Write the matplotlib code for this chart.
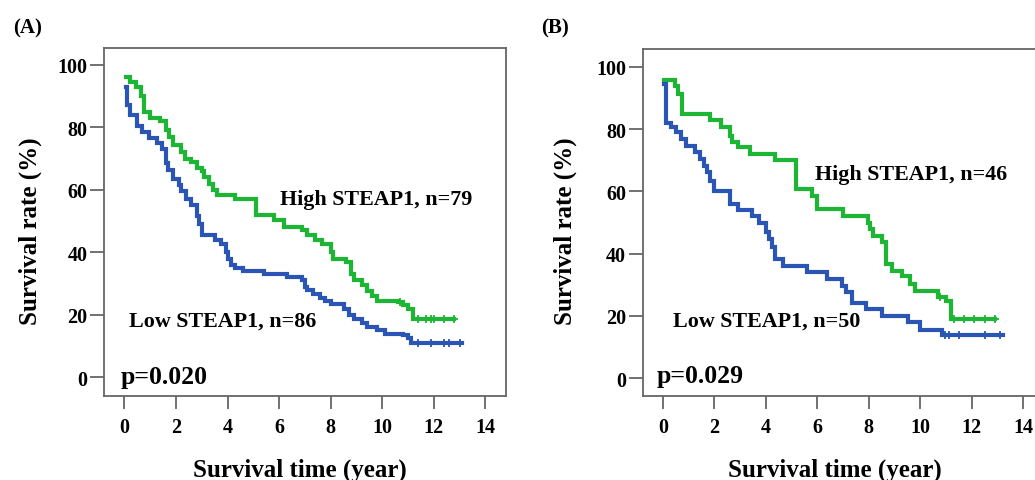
import numpy as np
import matplotlib.pyplot as plt

# Kaplan-Meier step points (time in years, survival in %)
a_high_t = [0.05, 0.2, 0.45, 0.65, 0.75, 1.0, 1.4, 1.6, 1.75, 1.9, 2.2, 2.35, 2.6, 2.8, 3.0,
            3.1, 3.3, 3.45, 3.6, 4.3, 5.1, 5.8, 6.2, 6.9, 7.1, 7.4, 7.65, 8.0, 8.1, 8.6,
            8.8, 8.9, 9.2, 9.4, 9.6, 9.8, 10.6, 10.8, 11.0, 11.2, 12.8]
a_high_s = [96, 94.5, 93, 90, 85, 83, 82, 79, 77, 74.5, 72, 70, 69, 67, 66,
            64, 62, 60, 58.5, 57, 52, 50.5, 48, 47, 45.5, 44, 42.5, 40, 38, 37,
            33, 31, 29.5, 27.5, 26, 24.5, 24, 23, 22, 18.5, 18.5]
a_high_cens = [10.7, 11.4, 11.7, 11.9, 12.0, 12.4, 12.8]

a_low_t = [0.05, 0.1, 0.2, 0.5, 0.7, 0.95, 1.25, 1.45, 1.6, 1.7, 1.9, 2.1, 2.2, 2.4, 2.6,
           2.8, 2.9, 3.0, 3.5, 3.75, 3.95, 4.0, 4.15, 4.3, 4.6, 5.4, 6.3, 6.9, 7.0, 7.1,
           7.3, 7.6, 7.8, 8.0, 8.5, 8.7, 8.9, 9.2, 9.4, 9.8, 10.1, 10.8, 11.0, 11.1, 13.1]
a_low_s = [93, 87, 84, 80.5, 78.5, 76.5, 75, 73, 68.5, 66.5, 63.5, 61.5, 59.5, 57, 55,
           51.5, 49, 45.5, 44, 42.5, 40, 38, 36, 35, 34, 33, 32, 31, 29, 28,
           26.5, 25.5, 24.5, 23.5, 22, 20, 18.5, 17.5, 16, 15, 14, 13.5, 12.5, 11, 11]
a_low_cens = [11.4, 11.9, 12.4, 12.6, 13.0]

b_high_t = [0.05, 0.45, 0.58, 0.74, 1.82, 2.27, 2.6, 2.7, 2.92, 3.37, 4.35, 5.16, 5.8, 6.0,
            7.0, 7.98, 8.05, 8.15, 8.5, 8.65, 8.9, 9.3, 9.6, 9.8, 10.7, 11.0, 11.2, 12.9]
b_high_s = [95.8, 93.9, 91.4, 84.8, 83, 80.7, 77.9, 75.7, 74.1, 72, 70, 60.7, 58.6, 54.3,
            52.2, 50, 47.9, 45.8, 43.6, 36.7, 34.5, 32.9, 30.3, 28.1, 26, 24.9, 19, 19]
b_high_cens = [10.75, 11.3, 11.7, 12.1, 12.5, 12.9]

b_low_t = [0.05, 0.1, 0.13, 0.32, 0.52, 0.71, 0.9, 1.23, 1.43, 1.58, 1.71, 1.84, 2.0, 2.6,
           2.92, 3.44, 3.75, 4.02, 4.12, 4.22, 4.35, 4.67, 5.58, 6.36, 6.94, 7.1, 7.33,
           7.91, 8.5, 9.53, 10.0, 10.83, 13.2]
b_low_s = [94.4, 87.5, 82, 80.5, 78.9, 76.8, 74.7, 72.5, 70.4, 68.2, 66.1, 63.4, 60.2, 55.9,
           54, 52.2, 50, 46.8, 44.7, 42, 38.3, 36.1, 34, 32, 29.7, 27.8, 24.2,
           22.2, 20.1, 18, 15.6, 13.9, 13.9]
b_low_cens = [10.96, 11.1, 11.5, 12.5, 13.1]

xticks = [0, 2, 4, 6, 8, 10, 12, 14]
yticks = [0, 20, 40, 60, 80, 100]

green = '#1cb534'
blue = '#2a55b5'
serif = 'Liberation Serif'

plt.rcParams['font.family'] = serif
plt.rcParams['font.weight'] = 'bold'

fig = plt.figure(figsize=(10.35, 4.81), dpi=100)


def km(ax, t, s, cens, color):
    ax.plot(t, s, drawstyle='steps-post', color=color, lw=3.0, solid_joinstyle='miter')
    idx = np.searchsorted(t, cens, side='right') - 1
    ax.plot(cens, np.array(s)[idx], ls='none', marker='+', ms=6, mew=1.3, color=color)


def panel(rect, ylim, curves, hi_txt, hi_xy, lo_txt, lo_xy, p_txt, p_xy):
    ax = fig.add_axes(rect)
    for t, s, cens, c in curves:
        km(ax, t, s, cens, c)
    ax.set_xlim(-0.79, 14.8)
    ax.set_ylim(*ylim)
    ax.set_xticks(xticks)
    ax.set_yticks(yticks)
    for sp in ax.spines.values():
        sp.set_color('#666666')
        sp.set_linewidth(1.3)
    ax.tick_params(axis='x', direction='out', length=9, width=1.3, color='#666666',
                   labelsize=14.5, pad=6)
    ax.tick_params(axis='y', direction='out', length=10, width=1.3, color='#666666',
                   labelsize=14.5, pad=2)
    for lab in ax.get_xticklabels() + ax.get_yticklabels():
        lab.set_fontweight('bold')
    ax.text(*hi_xy, hi_txt, fontsize=15.8, fontweight='bold', va='center', ha='left')
    ax.text(*lo_xy, lo_txt, fontsize=15.8, fontweight='bold', va='center', ha='left')
    ax.text(*p_xy, p_txt, fontsize=18.5, fontweight='bold', va='center', ha='left')
    return ax


panel([104 / 1035, 1 - 397 / 481, 402 / 1035, 348 / 481], (-6.0, 105.4),
      [(a_high_t, a_high_s, a_high_cens, green), (a_low_t, a_low_s, a_low_cens, blue)],
      'High STEAP1, n=79', (6.04, 57.1), 'Low STEAP1, n=86', (0.18, 18.1),
      'p=0.020', (-0.13, 0.4))

panel([642.7 / 1035, 1 - 397 / 481, 401 / 1035, 347 / 481], (-5.7, 105.7),
      [(b_high_t, b_high_s, b_high_cens, green), (b_low_t, b_low_s, b_low_cens, blue)],
      'High STEAP1, n=46', (5.9, 65.6), 'Low STEAP1, n=50', (0.37, 18.5),
      'p=0.029', (-0.26, 0.8))

# panel letters and axis titles
fig.text(13 / 1035, 1 - 28 / 481, '(A)', fontsize=15, fontweight='bold', va='center')
fig.text(541 / 1035, 1 - 28 / 481, '(B)', fontsize=15, fontweight='bold', va='center')
for xc in (30, 565):
    fig.text(xc / 1035, 1 - 231 / 481, 'Survival rate (%)', rotation=90, fontsize=18,
             fontweight='bold', ha='center', va='center')
for xc in (299.5, 835):
    fig.text(xc / 1035, 1 - 477 / 481, 'Survival time (year)', fontsize=18,
             fontweight='bold', ha='center', va='baseline')

fig.savefig('out.png', dpi=100)
